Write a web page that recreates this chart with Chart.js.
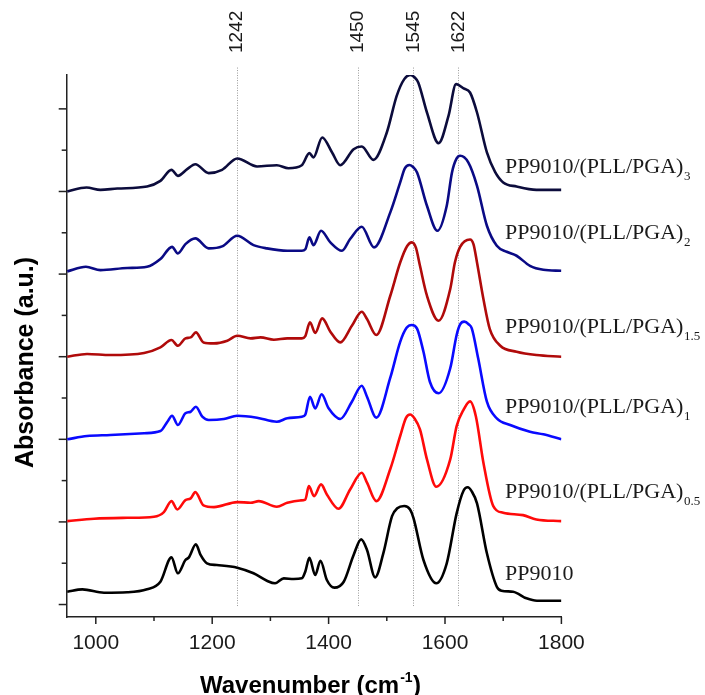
<!DOCTYPE html>
<html>
<head>
<meta charset="utf-8">
<script src="https://cdn.jsdelivr.net/npm/chart.js@4/dist/chart.umd.min.js"></script>
<style>
  html, body { margin: 0; padding: 0; background: #fff; }
  #wrap { width: 705px; height: 695px; position: relative; }
</style>
</head>
<body>
<div id="wrap"><canvas id="c" width="705" height="695"></canvas></div>
<script>
// FTIR spectra of PP9010 and its (PLL/PGA)n multilayer coatings, stacked with vertical offsets.

const sampleNames = ['PP9010', 'PP9010/(PLL/PGA)', 'PP9010/(PLL/PGA)', 'PP9010/(PLL/PGA)', 'PP9010/(PLL/PGA)', 'PP9010/(PLL/PGA)'];
const sampleSubs  = ['', '0.5', '1', '1.5', '2', '3'];
const stackOffsets = [0, 1, 2, 3, 4, 5];

const bandPositions = [1242, 1450, 1545, 1622];

const xTickValues = [1000, 1200, 1400, 1600, 1800];

// PP9010
const wnPP = [951, 977, 1014, 1054, 1088, 1111, 1130, 1141, 1154, 1160, 1172, 1180, 1191, 1208, 1243, 1271, 1294, 1308, 1323, 1340, 1354, 1360, 1367, 1377, 1386, 1397, 1410, 1426, 1443, 1456, 1466, 1480, 1494, 1509, 1518, 1530, 1540, 1546, 1563, 1585, 1603, 1620, 1632, 1639, 1646, 1655, 1672, 1689, 1697, 1717, 1740, 1758, 1800];
const absPP = [0.155, 0.184, 0.143, 0.148, 0.184, 0.276, 0.571, 0.378, 0.539, 0.571, 0.729, 0.60, 0.499, 0.478, 0.446, 0.378, 0.288, 0.257, 0.317, 0.309, 0.317, 0.40, 0.565, 0.357, 0.53, 0.297, 0.204, 0.276, 0.60, 0.789, 0.66, 0.329, 0.62, 1.07, 1.165, 1.193, 1.15, 1.044, 0.539, 0.257, 0.499, 1.104, 1.38, 1.419, 1.37, 1.225, 0.62, 0.216, 0.167, 0.155, 0.075, 0.046, 0.046];

// PP9010/(PLL/PGA)0.5
const wnL05 = [951, 997, 1054, 1100, 1117, 1130, 1140, 1154, 1163, 1171, 1185, 1203, 1243, 1266, 1280, 1311, 1329, 1351, 1360, 1366, 1375, 1387, 1397, 1417, 1437, 1457, 1466, 1482, 1506, 1523, 1533, 1540, 1548, 1557, 1569, 1585, 1609, 1620, 1632, 1643, 1653, 1666, 1683, 1700, 1734, 1757, 1800];
const absL05 = [0.01, 0.039, 0.05, 0.063, 0.119, 0.252, 0.151, 0.264, 0.285, 0.361, 0.20, 0.179, 0.24, 0.232, 0.252, 0.184, 0.232, 0.26, 0.27, 0.433, 0.312, 0.454, 0.333, 0.16, 0.393, 0.596, 0.475, 0.252, 0.64, 1.04, 1.26, 1.30, 1.25, 1.12, 0.757, 0.426, 0.757, 1.16, 1.36, 1.459, 1.28, 0.717, 0.191, 0.111, 0.082, 0.03, 0.01];

// PP9010/(PLL/PGA)1
const wnL1 = [951, 985, 1025, 1083, 1111, 1123, 1131, 1141, 1154, 1163, 1172, 1183, 1194, 1220, 1243, 1277, 1311, 1329, 1354, 1360, 1368, 1377, 1388, 1400, 1420, 1440, 1457, 1466, 1482, 1506, 1523, 1534, 1543, 1552, 1563, 1574, 1589, 1609, 1620, 1626, 1633, 1641, 1646, 1657, 1672, 1689, 1712, 1746, 1769, 1800];
const absL1 = [0, 0.04, 0.052, 0.073, 0.10, 0.213, 0.286, 0.173, 0.315, 0.334, 0.395, 0.274, 0.234, 0.246, 0.286, 0.262, 0.213, 0.254, 0.274, 0.30, 0.516, 0.375, 0.545, 0.375, 0.246, 0.455, 0.649, 0.516, 0.262, 0.746, 1.18, 1.35, 1.384, 1.34, 1.06, 0.697, 0.557, 0.86, 1.263, 1.39, 1.424, 1.39, 1.343, 0.98, 0.455, 0.254, 0.173, 0.092, 0.06, 0];

// PP9010/(PLL/PGA)1.5
const wnL15 = [951, 985, 1025, 1083, 1111, 1130, 1141, 1154, 1163, 1172, 1185, 1203, 1226, 1243, 1266, 1283, 1306, 1329, 1354, 1360, 1368, 1377, 1389, 1403, 1420, 1440, 1457, 1466, 1482, 1506, 1523, 1535, 1543, 1550, 1557, 1569, 1589, 1609, 1617, 1626, 1643, 1649, 1655, 1666, 1677, 1695, 1723, 1757, 1800];
const absL15 = [0, 0.033, 0.02, 0.045, 0.113, 0.202, 0.133, 0.222, 0.234, 0.294, 0.173, 0.161, 0.194, 0.254, 0.222, 0.234, 0.206, 0.222, 0.222, 0.25, 0.415, 0.287, 0.464, 0.303, 0.173, 0.375, 0.545, 0.456, 0.263, 0.738, 1.14, 1.34, 1.384, 1.32, 1.10, 0.738, 0.436, 0.82, 1.14, 1.33, 1.419, 1.36, 1.14, 0.699, 0.335, 0.133, 0.06, 0.02, 0];

// PP9010/(PLL/PGA)2
const wnL2 = [951, 983, 1008, 1054, 1088, 1111, 1131, 1141, 1154, 1171, 1194, 1217, 1243, 1271, 1294, 1329, 1354, 1360, 1367, 1374, 1387, 1403, 1423, 1437, 1457, 1478, 1506, 1523, 1531, 1539, 1546, 1552, 1569, 1587, 1603, 1612, 1620, 1626, 1640, 1655, 1672, 1689, 1706, 1723, 1746, 1769, 1800];
const absL2 = [0.033, 0.088, 0.048, 0.073, 0.088, 0.182, 0.33, 0.25, 0.363, 0.432, 0.311, 0.335, 0.464, 0.351, 0.311, 0.282, 0.282, 0.30, 0.444, 0.351, 0.524, 0.384, 0.282, 0.424, 0.573, 0.323, 0.747, 1.11, 1.28, 1.32, 1.29, 1.23, 0.827, 0.524, 0.827, 1.23, 1.40, 1.432, 1.352, 1.069, 0.585, 0.343, 0.27, 0.222, 0.1, 0.052, 0.04];

// PP9010/(PLL/PGA)3
const wnL3 = [951, 984, 1008, 1037, 1088, 1111, 1130, 1141, 1157, 1171, 1194, 1217, 1243, 1277, 1311, 1331, 1354, 1367, 1374, 1389, 1406, 1420, 1443, 1457, 1477, 1500, 1517, 1530, 1540, 1548, 1554, 1569, 1589, 1606, 1619, 1632, 1643, 1655, 1672, 1686, 1700, 1723, 1757, 1800];
const absL3 = [0, 0.048, 0.02, 0.036, 0.06, 0.128, 0.262, 0.189, 0.27, 0.33, 0.222, 0.262, 0.40, 0.303, 0.318, 0.282, 0.318, 0.464, 0.412, 0.654, 0.472, 0.318, 0.512, 0.545, 0.383, 0.714, 1.157, 1.36, 1.41, 1.38, 1.32, 0.956, 0.585, 0.915, 1.30, 1.247, 1.198, 0.956, 0.472, 0.237, 0.109, 0.06, 0.02, 0.02];

const spectraWn  = [wnPP, wnL05, wnL1, wnL15, wnL2, wnL3];
const spectraAbs = [absPP, absL05, absL1, absL15, absL2, absL3];

// ---- styling ----
const lineColors = ['#000000', '#ff0a0a', '#0a0aff', '#b00a0a', '#0a0a85', '#0c0c3c'];
const labelLift = [0.297, 0.289, 0.318, 0.287, 0.425, 0.224];
const labelAnchorWn = 1703;
const SANS = '"Liberation Sans", Arial, sans-serif';
const SERIF = '"Liberation Serif", "Times New Roman", serif';
const INK = '#1a1a1a';

const datasets = spectraWn.map((wn, i) => ({
  label: sampleNames[i] + sampleSubs[i],
  data: wn.map((w, j) => ({ x: w, y: spectraAbs[i][j] + stackOffsets[i] })),
  borderColor: lineColors[i],
  borderWidth: 2.6,
  pointRadius: 0,
  fill: false,
  cubicInterpolationMode: 'monotone'
}));

// Dotted band markers with rotated wavenumber labels
const bandMarkers = {
  id: 'bandMarkers',
  beforeDatasetsDraw(chart) {
    const { ctx, scales: { x, y } } = chart;
    const top = y.getPixelForValue(6.5);
    const bottom = y.getPixelForValue(0) + 1.5;
    ctx.save();
    ctx.strokeStyle = '#9a9a9a';
    ctx.lineWidth = 1;
    ctx.setLineDash([1, 1.5]);
    bandPositions.forEach(b => {
      const px = Math.round(x.getPixelForValue(b)) + 0.5;
      ctx.beginPath();
      ctx.moveTo(px, top);
      ctx.lineTo(px, bottom);
      ctx.stroke();
    });
    ctx.setLineDash([]);
    ctx.fillStyle = INK;
    ctx.font = '19px ' + SANS;
    ctx.textAlign = 'left';
    ctx.textBaseline = 'middle';
    bandPositions.forEach(b => {
      const px = x.getPixelForValue(b) + 0.5;
      ctx.save();
      ctx.translate(px, top - 14.5);
      ctx.rotate(-Math.PI / 2);
      ctx.fillText(String(b), 0, 0);
      ctx.restore();
    });
    ctx.restore();
  }
};

// Major / minor tick marks on both axes
const axisTicks = {
  id: 'axisTicks',
  afterDraw(chart) {
    const { ctx, chartArea, scales: { x, y } } = chart;
    ctx.save();
    ctx.strokeStyle = '#222';
    ctx.lineWidth = 1.5;
    x.ticks.forEach(t => {
      const px = x.getPixelForValue(t.value);
      const len = (t.value % 200 === 0) ? 7 : 4;
      ctx.beginPath();
      ctx.moveTo(px, chartArea.bottom);
      ctx.lineTo(px, chartArea.bottom + len);
      ctx.stroke();
    });
    y.ticks.forEach(t => {
      const py = y.getPixelForValue(t.value);
      const major = Math.abs(t.value - Math.round(t.value)) < 1e-6;
      const len = major ? 8 : 5;
      ctx.beginPath();
      ctx.moveTo(chartArea.left - len, py);
      ctx.lineTo(chartArea.left, py);
      ctx.stroke();
    });
    ctx.restore();
  }
};

// Sample names beside each trace, with subscript layer counts
const sampleLabels = {
  id: 'sampleLabels',
  afterDraw(chart) {
    const { ctx, scales: { x, y } } = chart;
    ctx.save();
    ctx.fillStyle = INK;
    ctx.textAlign = 'left';
    ctx.textBaseline = 'alphabetic';
    const px = x.getPixelForValue(labelAnchorWn);
    sampleNames.forEach((name, i) => {
      const py = y.getPixelForValue(stackOffsets[i] + labelLift[i]);
      ctx.font = '22px ' + SERIF;
      ctx.fillText(name, px, py);
      if (sampleSubs[i]) {
        const w = ctx.measureText(name).width;
        ctx.font = '13px ' + SERIF;
        ctx.fillText(sampleSubs[i], px + w + 0.5, py + 7);
      }
    });
    ctx.restore();
  }
};

// Axis titles
const axisTitles = {
  id: 'axisTitles',
  afterDraw(chart) {
    const { ctx, chartArea } = chart;
    ctx.save();
    ctx.fillStyle = '#000';
    ctx.textBaseline = 'alphabetic';
    ctx.textAlign = 'left';
    // vertical title
    ctx.save();
    ctx.translate(chartArea.left - 33.5, 468);
    ctx.rotate(-Math.PI / 2);
    ctx.font = 'bold 25px ' + SANS;
    ctx.fillText('Absorbance (a.u.)', 0, 0);
    ctx.restore();
    // horizontal title with superscript
    const x0 = 200, base = 693;
    ctx.font = 'bold 24px ' + SANS;
    const part1 = 'Wavenumber (cm';
    ctx.fillText(part1, x0, base);
    let w = ctx.measureText(part1).width;
    ctx.font = 'bold 14px ' + SANS;
    ctx.fillText('-1', x0 + w + 1, base - 11);
    w += ctx.measureText('-1').width + 1.5;
    ctx.font = 'bold 24px ' + SANS;
    ctx.fillText(')', x0 + w, base);
    ctx.restore();
  }
};

new Chart(document.getElementById('c'), {
  type: 'line',
  data: { datasets },
  options: {
    responsive: false,
    devicePixelRatio: 1,
    animation: false,
    layout: { padding: { top: 75, right: 143.6, left: 0, bottom: 0 } },
    plugins: { legend: { display: false }, tooltip: { enabled: false } },
    scales: {
      x: {
        type: 'linear',
        min: 950,
        max: 1800,
        grid: { display: false, drawTicks: false },
        border: { display: true, color: '#222', width: 1.5 },
        ticks: {
          stepSize: 100,
          includeBounds: false,
          autoSkip: false,
          maxRotation: 0,
          padding: 14,
          color: INK,
          font: { family: SANS, size: 21 },
          callback: v => xTickValues.includes(v) ? String(v) : ''
        },
        afterFit: s => { s.height = 78; }
      },
      y: {
        type: 'linear',
        min: -0.151,
        max: 6.41,
        grid: { display: false, drawTicks: false },
        border: { display: true, color: '#222', width: 1.5 },
        ticks: { display: false, stepSize: 0.5, includeBounds: false },
        afterFit: s => { s.width = 66.7; }
      }
    }
  },
  plugins: [bandMarkers, axisTicks, sampleLabels, axisTitles]
});
</script>
</body>
</html>
